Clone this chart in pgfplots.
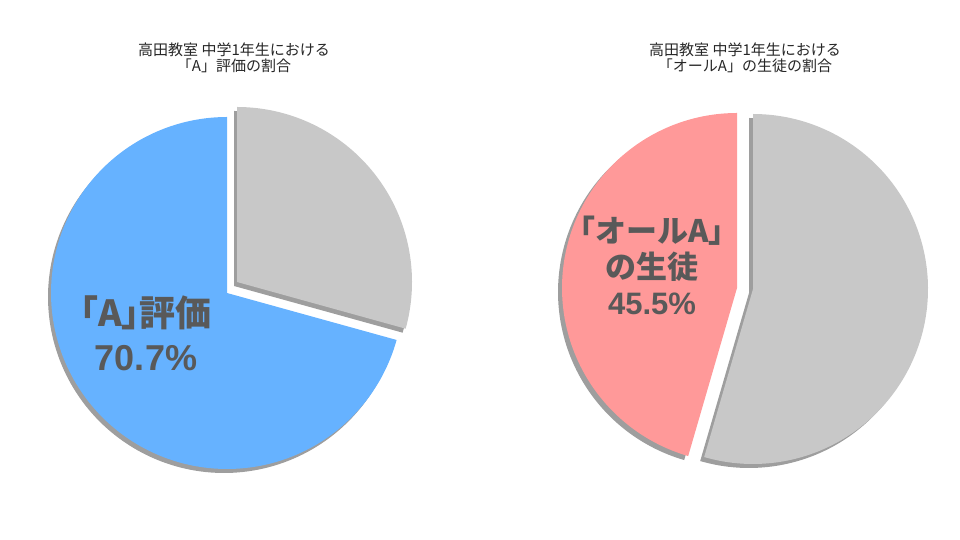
\documentclass[border=0pt]{standalone}
\usepackage{fontspec}
\setmainfont{Noto Sans CJK JP}
\newfontfamily\cjkp[RawFeature=+palt]{Noto Sans CJK JP}
\newfontfamily\lat{Liberation Sans}
\usepackage{pgfplots}
\pgfplotsset{compat=1.18}

\definecolor{pieblue}{HTML}{66B2FF}
\definecolor{piepink}{HTML}{FF9999}
\definecolor{piegray}{HTML}{C8C8C8}
\definecolor{pieshadow}{HTML}{9E9E9E}
\definecolor{labelgray}{HTML}{595959}

% one pie slice: centre x, centre y, radius, start angle, end angle, style
\newcommand{\pieslice}[6]{%
  \addplot[draw=none, #6, domain=#4:#5, samples=150]
    ({#1+#3*cos(x)}, {#2+#3*sin(x)}) -- (axis cs:#1,#2) -- cycle;}

\begin{document}
\begin{tikzpicture}
% shares in percent
\pgfmathsetmacro{\shareA}{70.7}   % 「A」評価
\pgfmathsetmacro{\shareB}{45.5}   % 「オールA」の生徒
\pgfmathsetmacro{\cutA}{90-(100-\shareA)*3.6}
\pgfmathsetmacro{\endA}{90+\shareA*3.6}
\pgfmathsetmacro{\cutB}{90+\shareB*3.6}
\begin{axis}[
    width=960pt, height=540pt, scale only axis,
    xmin=0, xmax=960, ymin=0, ymax=540,
    hide axis, clip=false,
]
% shadows
\pieslice{224}{243}{176}{90}{\endA}{fill=pieshadow}
\pieslice{234}{254}{175}{\cutA}{90}{fill=pieshadow}
\pieslice{733}{248}{175}{90}{\cutB}{fill=pieshadow}
\pieslice{749}{247}{175}{\cutB}{450}{fill=pieshadow}
% left pie
\pieslice{227}{247}{176}{90}{\endA}{fill=pieblue}
\pieslice{237}{258}{175}{\cutA}{90}{fill=piegray}
% right pie
\pieslice{737}{252}{175}{90}{\cutB}{fill=piepink}
\pieslice{753}{251}{175}{\cutB}{450}{fill=piegray}

\node[align=center, font=\fontsize{15}{16}\selectfont, text=black!85]
  at (axis cs:234,482) {高田教室 中学1年生における\\「A」評価の割合};
\node[align=center, font=\fontsize{15}{16}\selectfont, text=black!85]
  at (axis cs:745,482) {高田教室 中学1年生における\\「オールA」の生徒の割合};

\node[align=center, font=\cjkp\bfseries\fontsize{36}{44}\selectfont, text=labelgray]
  at (axis cs:146,207) {「A」評価\\{\lat\bfseries 70.7\%}};
\node[align=center, font=\bfseries\fontsize{31}{36}\selectfont, text=labelgray]
  at (axis cs:652,275) {「オールA」\\の生徒\\{\lat\bfseries 45.5\%}};
\end{axis}
\pgfresetboundingbox
\path (current axis.south west) rectangle (current axis.north east);
\end{tikzpicture}
\end{document}
